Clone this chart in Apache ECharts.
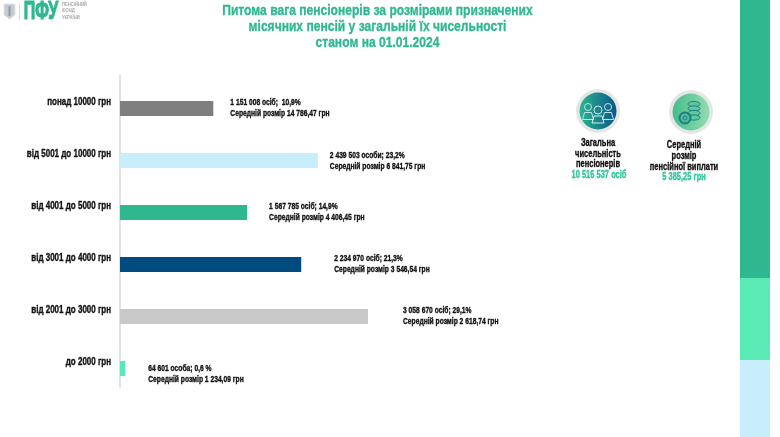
<!DOCTYPE html>
<html>
<head>
<meta charset="utf-8">
<style>
html,body{margin:0;padding:0;background:#fff}
#main{width:780px;height:437px}
</style>
<script src="https://cdn.jsdelivr.net/npm/echarts@6/dist/echarts.min.js"></script>
</head>
<body>
<div id="main"></div>
<script>
var FONT = "'Liberation Sans',Arial,sans-serif";
var GREEN = "#2fb88f";

var categories = ["понад 10000 грн","від 5001 до 10000 грн","від 4001 до 5000 грн","від 3001 до 4000 грн","від 2001 до 3000 грн","до 2000 грн"];
var persons = [1151008,2439503,1567785,2234970,3058670,64601];
var countLabels = ["1 151 008 осіб;  10,9%","2 439 503 особи; 23,2%","1 567 785 осіб; 14,9%","2 234 970 осіб; 21,3%","3 058 670 осіб; 29,1%","64 601 особа; 0,6 %"];
var avgLabels = ["Середній розмір 14 786,47 грн","Середній розмір 6 841,75 грн","Середній розмір 4 406,45 грн","Середній розмір 3 546,54 грн","Середній розмір 2 618,74 грн","Середній розмір 1 234,09 грн"];
var barColors = ["#7f7f7f","#c9eefb","#2fb88f","#004b7f","#c8c8c8","#5aeab5"];
// how far each label sits from the end of its bar
var labelGap = [17,12,22,33,35,23];
var labelShift = [0,1,0,0,0,6];
var BAR_H = 15;

var titleLines = ["Питома вага пенсіонерів за розмірами призначених","місячних пенсій у загальній їх чисельності","станом на 01.01.2024"];
var titleY = [11,27,42.5];
var totalLines = ["Загальна","чисельність","пенсіонерів"];
var totalValue = "10 516 537 осіб";
var avgLines = ["Середній","розмір","пенсійної виплати"];
var avgValue = "5 385,25 грн";

// the reference font is a narrow one, so plain Liberation Sans gets squeezed
// and a thin outline gives back the weight lost by squeezing
function txt(x, y, text, size, color, align, squeeze) {
	return {
		type: "text", x: x, y: y, scaleX: squeeze || 0.75, silent: true,
		style: {
			text: text, font: "bold " + size + "px " + FONT, fill: color,
			stroke: color, lineWidth: size > 4 && size < 6 ? 0 : 0.35,
			align: align || "center", verticalAlign: "middle"
		}
	};
}
function rect(x, y, w, h, color) {
	return { type: "rect", silent: true, shape: { x: x, y: y, width: w, height: h }, style: { fill: color } };
}
function badge(cx, cy, c1, c2) {
	return [
		{ type: "circle", silent: true, shape: { cx: cx, cy: cy, r: 22 }, style: { fill: "#e4e6e5" } },
		{ type: "circle", silent: true, shape: { cx: cx, cy: cy, r: 18.5 }, style: {
			fill: new echarts.graphic.LinearGradient(0, 0, 1, 0, [{ offset: 0, color: c1 }, { offset: 1, color: c2 }])
		} }
	];
}
function person(cx, cy, r, color) {
	return [
		{ type: "circle", silent: true, shape: { cx: cx, cy: cy, r: r }, style: { fill: "none", stroke: color, lineWidth: 1 } },
		{ type: "polygon", silent: true, shape: { points: [[cx - r - 2, cy + r + 9], [cx - r, cy + r + 2], [cx + r, cy + r + 2], [cx + r + 2, cy + r + 9]] }, style: { fill: "none", stroke: color, lineWidth: 1 } }
	];
}

var graphics = [
	rect(740, 0, 30, 278, GREEN),
	rect(740, 278, 30, 82, "#5aeab5"),
	rect(740, 360, 30, 77, "#c9eefb"),
	// logo
	{ type: "polygon", silent: true, shape: { points: [[4, 4], [15, 4], [15, 15], [9.5, 19], [4, 15]] }, style: { fill: "#c4cbd0", stroke: "#e3e6e8" } },
	rect(8.6, 6, 1.8, 10, "#8b97a0"),
	rect(19, 3, 1, 17, "#bfe6d8"),
	txt(41, 12.5, "ПФУ", 25, GREEN, "center", 0.64),
	txt(62, 4.5, "ПЕНСІЙНИЙ", 5, "#a8a8a8", "left", 0.83),
	txt(62, 11, "ФОНД", 5, "#a8a8a8", "left", 0.83),
	txt(62, 17.5, "УКРАЇНИ", 5, "#a8a8a8", "left", 0.83)
];
graphics[6].style.lineWidth = 1.2;
titleLines.forEach(function(line, i) {
	graphics.push(txt(377.5, titleY[i], line, 15, GREEN, "center", 0.805));
});
graphics = graphics.concat(badge(598, 111, "#2bb58f", "#0b5788"));
graphics = graphics.concat(person(588, 107, 3.5, "#bfe3ea"), person(608, 107, 3.5, "#bfe3ea"), person(598, 110, 4, "#d4eef0"));
graphics = graphics.concat(badge(691, 112, "#45bd8c", "#93dcb2"));
[0, 1, 2, 3].forEach(function(i) {
	graphics.push({ type: "ellipse", silent: true, shape: { cx: 694, cy: 104 + i * 4.5, rx: 6, ry: 2.6 }, style: { fill: "#5fc79c", stroke: "#1f7c84", lineWidth: 1 } });
});
graphics.push({ type: "circle", silent: true, shape: { cx: 685, cy: 118, r: 5.5 }, style: { fill: "#4fbf96", stroke: "#1f7c84", lineWidth: 2 } });
graphics.push({ type: "circle", silent: true, shape: { cx: 685, cy: 118, r: 2 }, style: { fill: "none", stroke: "#1f7c84", lineWidth: 1 } });
totalLines.forEach(function(line, i) {
	graphics.push(txt(598, 143.5 + i * 10.5, line, 10, "#111"));
});
graphics.push(txt(599, 175, totalValue, 10, "#2fc49a"));
avgLines.forEach(function(line, i) {
	graphics.push(txt(684, 145 + i * 11, line, 10, "#111"));
});
graphics.push(txt(684, 177, avgValue, 10, "#2fc49a"));

var chartObj = echarts.init(document.getElementById("main"), null, { renderer: "canvas" });
var option = {
	animation: false,
	backgroundColor: "#fff",
	grid: { left: 120, top: 75, width: 283.8, height: 312, containLabel: false },
	xAxis: { type: "value", min: 0, max: 3500000, show: false },
	yAxis: {
		type: "category",
		inverse: true,
		data: categories,
		axisLine: { lineStyle: { color: "#d9d9d9", width: 1.5 } },
		axisTick: { length: 2, lineStyle: { color: "#d9d9d9" } },
		axisLabel: { show: false }
	},
	series: [
		// empty series: it pushes the bars to the lower half of each band
		{ type: "bar", barWidth: BAR_H, barGap: 0, data: [] },
		{
			type: "bar",
			barWidth: BAR_H,
			barGap: 0,
			data: persons.map(function(v, i) {
				return { value: v, itemStyle: { color: barColors[i] } };
			})
		},
		{
			// bar captions
			type: "custom",
			silent: true,
			data: persons.map(function(v, i) { return [v, i]; }),
			encode: { x: 0, y: 1 },
			renderItem: function(params, api) {
				var i = params.dataIndex;
				var pt = api.coord([api.value(0), i]);
				var el = txt(pt[0] + labelGap[i], pt[1] + BAR_H / 2 + labelShift[i], countLabels[i] + "\n" + avgLabels[i], 9, "#111", "left", 0.745);
				el.style.lineHeight = 11;
				return el;
			}
		},
		{
			// category names, the axis labels cannot be squeezed
			type: "custom",
			silent: true,
			data: persons.map(function(v, i) { return [0, i]; }),
			encode: { x: 0, y: 1 },
			renderItem: function(params, api) {
				var i = params.dataIndex;
				var pt = api.coord([0, i]);
				return txt(pt[0] - 9, pt[1] + 1, categories[i], 10, "#111", "right", 0.8);
			}
		}
	],
	graphic: graphics
};
chartObj.setOption(option);
</script>
</body>
</html>
